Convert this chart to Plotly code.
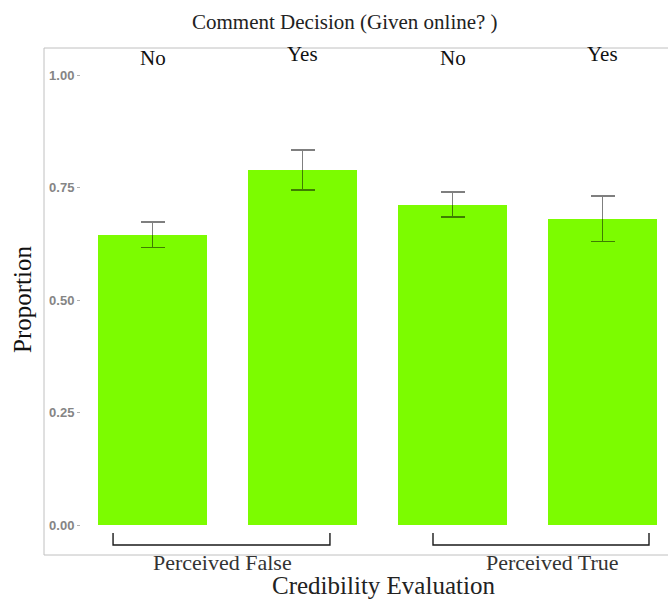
import plotly.graph_objects as go

# Proportion of comments by credibility evaluation and whether the item was seen online
decision_labels = ["No", "Yes", "No", "Yes"]
group_labels = ["Perceived False", "Perceived True"]
proportions = [0.644, 0.789, 0.711, 0.680]
err_upper = [0.029, 0.044, 0.029, 0.051]
err_lower = [0.027, 0.045, 0.027, 0.050]
y_ticks = [0.0, 0.25, 0.5, 0.75, 1.0]

W, H = 668, 601
ML, MR, MT, MB = 44, 0, 48, 46
plot_w = W - ML - MR

x_pos = list(range(len(proportions)))
serif = "Liberation Serif, Times New Roman, serif"

fig = go.Figure()
fig.add_trace(go.Bar(
    x=x_pos,
    y=proportions,
    width=0.727,
    marker=dict(color="#7CFC00", line=dict(width=0)),
    error_y=dict(
        type="data", symmetric=False,
        array=err_upper, arrayminus=err_lower,
        color="rgba(0,0,0,0.5)", thickness=1.6, width=12,
    ),
    hoverinfo="y",
))

x_left = -108.5 / 150
x_right = (plot_w - 108.5) / 150
y_lo = -30 / 450
y_hi = (525 - 48) / 450

fig.update_layout(
    width=W, height=H,
    margin=dict(l=ML, r=MR, t=MT, b=MB),
    paper_bgcolor="white",
    plot_bgcolor="white",
    showlegend=False,
    bargap=0,
    xaxis=dict(range=[x_left, x_right], showticklabels=False, ticks="",
               showgrid=False, zeroline=False, showline=False, fixedrange=True),
    yaxis=dict(
        range=[y_lo, y_hi], anchor="free", position=36 / plot_w,
        tickvals=y_ticks, tickformat=".2f",
        ticks="outside", ticklen=3, tickwidth=1, tickcolor="#b0b0b0",
        tickfont=dict(family="Arial, Liberation Sans, sans-serif", size=13,
                      color="#858585", weight="bold"),
        showgrid=False, zeroline=False, showline=False, fixedrange=True,
    ),
)

# Panel border (left, top, bottom)
border = dict(color="#c0c0c0", width=1)
fig.add_shape(type="line", xref="paper", yref="paper", x0=0, x1=0, y0=0, y1=1, line=border)
fig.add_shape(type="line", xref="paper", yref="paper", x0=0, x1=1, y0=1, y1=1, line=border)
fig.add_shape(type="line", xref="paper", yref="paper", x0=0, x1=1, y0=0, y1=0, line=border)

# Group brackets beneath the bars
bracket_spans = [(-0.263, 1.183), (1.87, 3.31)]
b_top, b_bot = -8 / 450, -20 / 450
for (a, b), name in zip(bracket_spans, group_labels):
    fig.add_shape(type="path", xref="x", yref="y",
                  path=f"M {a},{b_top} L {a},{b_bot} L {b},{b_bot} L {b},{b_top}",
                  line=dict(color="#1a1a1a", width=1.4))

# Group names below the panel
group_centers = [(222 - ML - 108.5) / 150, (552 - ML - 108.5) / 150]
for cx, name in zip(group_centers, group_labels):
    fig.add_annotation(x=cx, xref="x", y=-7 / 507, yref="paper", yanchor="middle",
                       text=name, showarrow=False,
                       font=dict(family=serif, size=22, color="#333333"))

# Decision labels along the top of the panel
for xi, lab in zip(x_pos, decision_labels):
    shift = 4 if lab == "Yes" else 0
    fig.add_annotation(x=xi, xref="x", y=1 - 10 / 507, yref="paper", yanchor="middle",
                       yshift=shift, text=lab, showarrow=False,
                       font=dict(family=serif, size=21, color="#111111"))

# Titles
fig.add_annotation(x=(345 - ML) / plot_w, xref="paper", y=1 + 26 / 507, yref="paper",
                   yanchor="middle", text="Comment Decision (Given online? )",
                   showarrow=False, font=dict(family=serif, size=21, color="#222222"))
fig.add_annotation(x=(383 - ML) / plot_w, xref="paper", y=-46 / 507, yref="paper",
                   yanchor="bottom", text="Credibility Evaluation",
                   showarrow=False, font=dict(family=serif, size=25, color="#222222"))
fig.add_annotation(x=-22 / plot_w, xref="paper", y=(555 - 300) / 507, yref="paper",
                   xanchor="center", yanchor="middle", textangle=-90, text="Proportion",
                   showarrow=False, font=dict(family=serif, size=25, color="#111111"))

fig.write_html("out.html")
